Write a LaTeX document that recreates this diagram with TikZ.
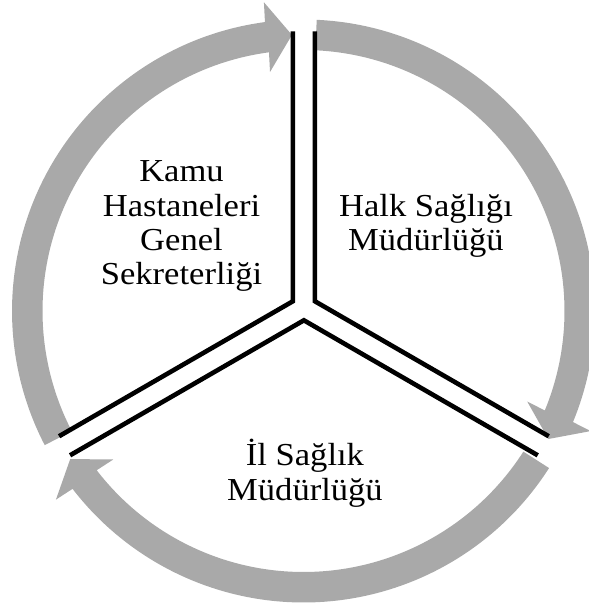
\documentclass[tikz,border=0pt]{standalone}
\usepackage{fontspec}
\setmainfont{Liberation Serif}[FakeStretch=1.08]
\usetikzlibrary{calc}
\definecolor{ringgray}{RGB}{169,169,169}
\tikzset{
  labeltext/.style={font=\fontsize{32}{34.3}\selectfont, align=center, inner sep=0pt, anchor=base},
  sepline/.style={line width=4.6pt, line join=miter, line cap=butt, draw=black},
  cycarrow/.style={fill=ringgray, draw=none},
}
\def\Ro{291.5}
\def\Ri{261}
\def\Rm{276.3}
\def\hw{35}
\begin{document}
\begin{tikzpicture}[x=1pt,y=-1pt]
\useasboundingbox (0,0) rectangle (589,608);
% ring centre
\coordinate (rc) at (303.5,311);
% three circular arrows (one per sector), rotated copies
\foreach \rot in {0,-120,-240}{
  \begin{scope}[shift={(rc)}, rotate=\rot]
    \fill[cycarrow] (207.4:\Ro pt) arc[start angle=207.4, end angle=97.6, radius=\Ro pt]
      -- ($(97.6:\Rm pt)!\hw pt!90:(92.4:\Rm pt)$)
      -- (92.4:\Rm pt)
      -- ($(97.6:\Rm pt)!\hw pt!-90:(92.4:\Rm pt)$)
      -- (97.6:\Ri pt) arc[start angle=97.6, end angle=207.4, radius=\Ri pt]
      -- cycle;
  \end{scope}
}
% sector separators (double black lines)
\coordinate (cTL) at (292.9,301.25);
\coordinate (cTR) at (314.9,301.25);
\coordinate (cB)  at (303.9,320.3);
\coordinate (eTLa) at ($(cTL)+(210:270pt)$);
\coordinate (eTLb) at ($(cTL)+(90:270pt)$);
\coordinate (eTRa) at ($(cTR)+(90:270pt)$);
\coordinate (eTRb) at ($(cTR)+(-30:270pt)$);
\coordinate (eBa)  at ($(cB)+(210:270pt)$);
\coordinate (eBb)  at ($(cB)+(-30:270pt)$);
\draw[sepline] (eTLa) -- (cTL) -- (eTLb);
\draw[sepline] (eTRa) -- (cTR) -- (eTRb);
\draw[sepline] (eBa) -- (cB) -- (eBb);
% labels (anchor base = baseline of the last line)
\node[labeltext] (kamu) at (181.5,284.6) {Kamu\\Hastaneleri\\Genel\\Sekreterliği};
\node[labeltext] (halk) at (426,250.7) {Halk Sağlığı\\Müdürlüğü};
\node[labeltext] (il) at (305,500) {İl Sağlık\\Müdürlüğü};
\end{tikzpicture}
\end{document}
